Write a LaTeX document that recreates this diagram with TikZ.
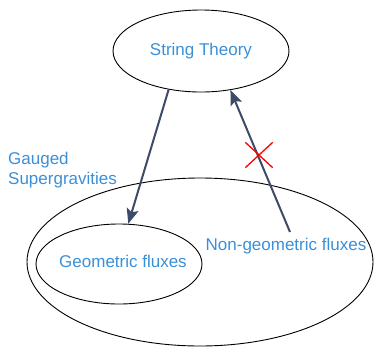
\documentclass[tikz,border=0pt]{standalone}
\usepackage{fontspec}
\setmainfont{Liberation Sans}
\usetikzlibrary{shapes.geometric,shapes.misc,arrows.meta}
\definecolor{txtblue}{RGB}{58,143,217}
\definecolor{arrowcol}{RGB}{61,74,104}
\tikzset{
  oval/.style={ellipse,draw=black,line width=0.9pt,inner sep=0pt},
  lbl/.style={text=txtblue,font=\fontsize{17}{20}\selectfont,inner sep=0pt},
  flow/.style={draw=arrowcol,line width=2pt,-{Stealth[length=15pt,width=12pt,inset=3pt]}},
}
\begin{document}
\begin{tikzpicture}[x=1pt,y=-1pt]
\useasboundingbox (0,0) rectangle (375,346);
\node[oval,minimum width=346pt,minimum height=168pt] (outer) at (200,262) {};
\node[oval,minimum width=176pt,minimum height=82pt,lbl] (st) at (201,51) {String Theory};
\node[oval,minimum width=166pt,minimum height=80pt] (geo) at (119,264) {};
\node[lbl] (geotxt) at (123,261) {Geometric fluxes};
\node[lbl] (ng) at (286,246) {Non-geometric fluxes};
\node[lbl,anchor=west,align=left] (gs) at (8,170) {Gauged\\Supergravities};
\coordinate (ngtop) at (290,232);
\draw[flow] (st.230) -- (geo.77);
\draw[flow] (ngtop) -- (st.307);
\node[cross out,draw=red,line width=1.3pt,minimum width=26pt,minimum height=24pt,inner sep=0pt] (x) at (259,155) {};
\end{tikzpicture}
\end{document}
